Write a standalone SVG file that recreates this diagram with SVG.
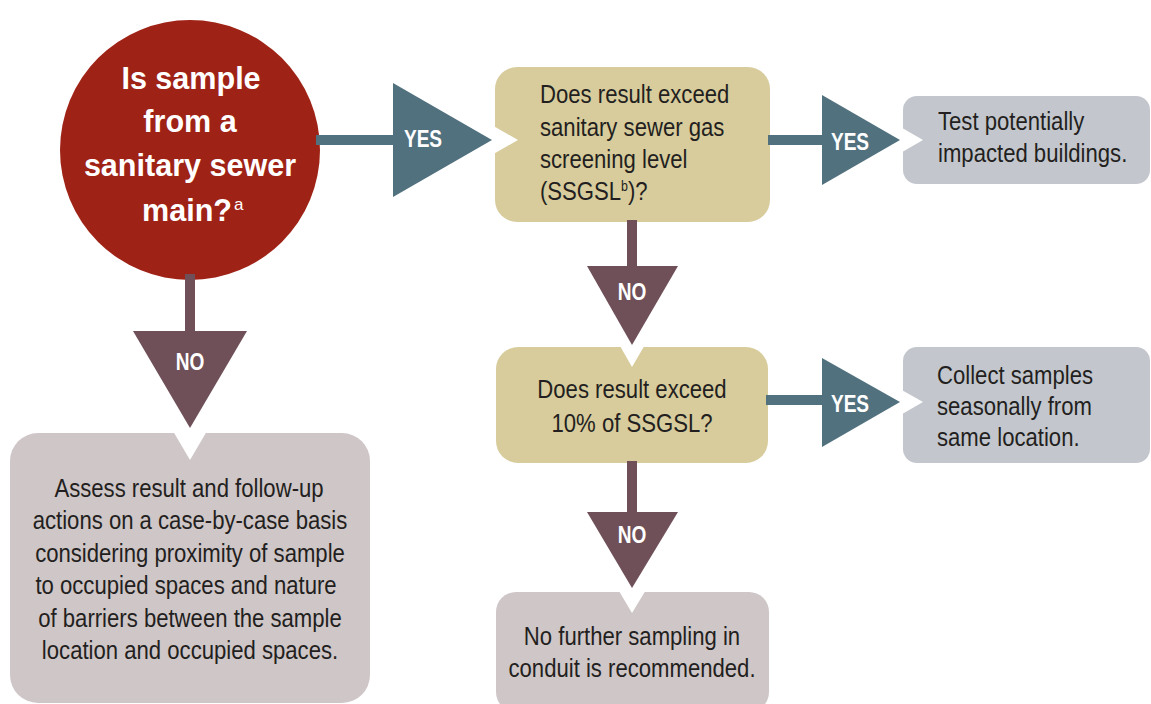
<svg xmlns="http://www.w3.org/2000/svg" width="1151" height="704" viewBox="0 0 1151 704">
  <style>
    .body { font-family: "Liberation Sans", Arial, sans-serif; font-size: 25px; fill: #231f20; }
    .mid { text-anchor: middle; }
    .lbl { font-family: "Liberation Sans", Arial, sans-serif; font-size: 23px; font-weight: bold; fill: #ffffff; text-anchor: middle; }
    .big { font-family: "Liberation Sans", Arial, sans-serif; font-size: 31.5px; font-weight: bold; fill: #ffffff; text-anchor: middle; }
    .tan { fill: #d8cc9d; }
    .blue { fill: #c3c7cd; }
    .mauve { fill: #cfc6c7; }
    .yes { fill: #52717f; }
    .no { fill: #6f5058; }
    .notch { fill: #ffffff; }
  </style>
  <rect width="1151" height="704" fill="#ffffff"/>

  <g id="start">
    <circle cx="190" cy="150" r="130" fill="#9f2216"/>
    <text class="big" transform="translate(191 89) scale(0.97 1)">Is sample</text>
    <text class="big" transform="translate(190 132) scale(0.97 1)">from a</text>
    <text class="big" transform="translate(190 175.5) scale(0.97 1)">sanitary sewer</text>
    <text class="big" transform="translate(187 221) scale(0.97 1)" x="0">main?</text>
    <text font-family="'Liberation Sans', Arial, sans-serif" font-size="17" fill="#ffffff" x="234" y="210">a</text>
  </g>

  <g id="q1">
    <rect class="tan" x="495" y="67" width="275" height="155" rx="22"/>
    <polygon class="notch" points="419,83 419,197 518,140"/>
    <text class="body" transform="translate(540 103) scale(0.885 1)">Does result exceed</text>
    <text class="body" transform="translate(540 135.5) scale(0.885 1)">sanitary sewer gas</text>
    <text class="body" transform="translate(540 168) scale(0.885 1)">screening level</text>
    <text class="body" transform="translate(540 200) scale(0.885 1)">(SSGSL<tspan font-size="14" dy="-9">b</tspan><tspan dy="9">)?</tspan></text>
  </g>

  <g id="test">
    <rect class="blue" x="903" y="96" width="247" height="88" rx="14"/>
    <polygon class="notch" points="845,95 845,185 923,140"/>
    <text class="body" transform="translate(938 130) scale(0.885 1)">Test potentially</text>
    <text class="body" transform="translate(938 162) scale(0.885 1)">impacted buildings.</text>
  </g>

  <g id="q2">
    <rect class="tan" x="496" y="347" width="272" height="116" rx="22"/>
    <polygon class="notch" points="587,288 678,288 632,367"/>
    <text class="body mid" transform="translate(632 398) scale(0.885 1)">Does result exceed</text>
    <text class="body mid" transform="translate(632 431.5) scale(0.885 1)">10% of SSGSL?</text>
  </g>

  <g id="collect">
    <rect class="blue" x="903" y="347" width="247" height="116" rx="14"/>
    <polygon class="notch" points="845,358 845,447 923,402"/>
    <text class="body" transform="translate(937 384) scale(0.885 1)">Collect samples</text>
    <text class="body" transform="translate(937 415) scale(0.885 1)">seasonally from</text>
    <text class="body" transform="translate(937 446) scale(0.885 1)">same location.</text>
  </g>

  <g id="assess">
    <rect class="mauve" x="10" y="433" width="360" height="270" rx="28"/>
    <polygon class="notch" points="133,363 247,363 190,460"/>
    <text class="body mid" transform="translate(189 497) scale(0.885 1)">Assess result and follow-up</text>
    <text class="body mid" transform="translate(190 529) scale(0.885 1)">actions on a case-by-case basis</text>
    <text class="body mid" transform="translate(190 562) scale(0.885 1)">considering proximity of sample</text>
    <text class="body mid" transform="translate(186 594) scale(0.885 1)">to occupied spaces and nature</text>
    <text class="body mid" transform="translate(190 627) scale(0.885 1)">of barriers between the sample</text>
    <text class="body mid" transform="translate(190 659) scale(0.885 1)">location and occupied spaces.</text>
  </g>

  <g id="nofurther">
    <rect class="mauve" x="496" y="592" width="273" height="120" rx="20"/>
    <polygon class="notch" points="587,537 678,537 632,613"/>
    <text class="body mid" transform="translate(632 645) scale(0.885 1)">No further sampling in</text>
    <text class="body mid" transform="translate(632 677) scale(0.885 1)">conduit is recommended.</text>
  </g>

  <g id="connectors">
    <rect class="yes" x="316" y="135" width="79" height="10"/>
    <polygon class="yes" points="393,83 393,197 492,140"/>
    <text class="lbl" transform="translate(423 147) scale(0.83 1)">YES</text>

    <rect class="yes" x="768" y="135" width="56" height="10"/>
    <polygon class="yes" points="822,95 822,185 900,140"/>
    <text class="lbl" transform="translate(850 150) scale(0.83 1)">YES</text>

    <rect class="no" x="185" y="274" width="10" height="59"/>
    <polygon class="no" points="133,331 247,331 190,428"/>
    <text class="lbl" transform="translate(190 370) scale(0.83 1)">NO</text>

    <rect class="no" x="627" y="220" width="10" height="48"/>
    <polygon class="no" points="587,266 678,266 632,345"/>
    <text class="lbl" transform="translate(632 300) scale(0.83 1)">NO</text>

    <rect class="yes" x="766" y="395" width="58" height="10"/>
    <polygon class="yes" points="822,358 822,447 900,402"/>
    <text class="lbl" transform="translate(850 412) scale(0.83 1)">YES</text>

    <rect class="no" x="627" y="461" width="10" height="53"/>
    <polygon class="no" points="587,512 678,512 632,588"/>
    <text class="lbl" transform="translate(632 543) scale(0.83 1)">NO</text>
  </g>
</svg>
